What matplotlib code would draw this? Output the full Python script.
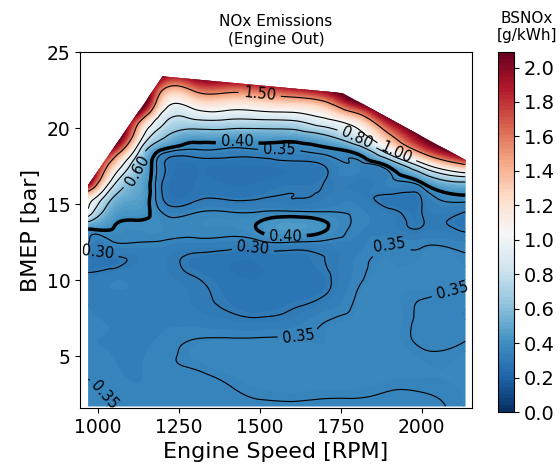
import numpy as np
import matplotlib.pyplot as plt
import matplotlib.tri as mtri
from matplotlib.path import Path
from matplotlib.patches import PathPatch

# ---------------------------------
# data (BSNOx g/kWh)
# ---------------------------------
speed = [970, 1050, 1130, 1200, 1300, 1400, 1500, 1600, 1700, 1800, 1900, 2000, 2135]
bmep = [1.7, 3.0, 4.5, 6.0, 7.5, 9.0, 10.5, 11.5, 12.5, 13.5,
        14.5, 15.5, 16.5, 17.5, 18.5, 19.5, 20.5, 21.5, 22.5, 23.5]

# one row per bmep value, one column per speed
bsnox = [
    [0.372, 0.350, 0.338, 0.338, 0.340, 0.343, 0.346, 0.347, 0.346, 0.345, 0.344, 0.346, 0.356],
    [0.356, 0.340, 0.335, 0.337, 0.343, 0.349, 0.356, 0.358, 0.357, 0.356, 0.352, 0.352, 0.357],
    [0.340, 0.335, 0.333, 0.345, 0.353, 0.362, 0.366, 0.366, 0.364, 0.362, 0.360, 0.356, 0.358],
    [0.335, 0.333, 0.332, 0.338, 0.352, 0.356, 0.357, 0.356, 0.355, 0.360, 0.360, 0.347, 0.350],
    [0.335, 0.332, 0.330, 0.330, 0.322, 0.310, 0.302, 0.315, 0.345, 0.357, 0.360, 0.346, 0.334],
    [0.333, 0.330, 0.328, 0.325, 0.310, 0.290, 0.280, 0.285, 0.300, 0.352, 0.360, 0.352, 0.343],
    [0.300, 0.315, 0.325, 0.318, 0.295, 0.275, 0.270, 0.275, 0.295, 0.340, 0.358, 0.360, 0.357],
    [0.285, 0.295, 0.315, 0.318, 0.292, 0.280, 0.280, 0.285, 0.300, 0.335, 0.355, 0.356, 0.352],
    [0.355, 0.350, 0.350, 0.345, 0.335, 0.330, 0.340, 0.350, 0.340, 0.330, 0.345, 0.340, 0.335],
    [0.440, 0.400, 0.382, 0.375, 0.370, 0.375, 0.410, 0.445, 0.410, 0.340, 0.320, 0.300, 0.285],
    [0.950, 0.470, 0.430, 0.345, 0.345, 0.350, 0.350, 0.355, 0.350, 0.340, 0.310, 0.300, 0.300],
    [1.200, 0.600, 0.470, 0.300, 0.285, 0.290, 0.295, 0.300, 0.310, 0.320, 0.290, 0.305, 0.390],
    [2.150, 0.880, 0.500, 0.300, 0.270, 0.265, 0.270, 0.285, 0.300, 0.310, 0.340, 0.420, 0.620],
    [2.300, 1.250, 0.580, 0.310, 0.270, 0.265, 0.270, 0.280, 0.300, 0.340, 0.420, 0.850, 1.400],
    [2.400, 1.800, 0.780, 0.380, 0.340, 0.335, 0.340, 0.345, 0.370, 0.450, 0.950, 1.600, 2.300],
    [2.500, 2.400, 1.150, 0.650, 0.480, 0.480, 0.480, 0.480, 0.580, 0.860, 1.450, 2.100, 2.500],
    [2.600, 2.500, 1.550, 0.850, 0.780, 0.780, 0.780, 0.800, 0.950, 1.200, 1.950, 2.400, 2.600],
    [2.600, 2.600, 2.300, 1.150, 1.100, 1.120, 1.150, 1.200, 1.350, 1.900, 2.400, 2.500, 2.600],
    [2.600, 2.600, 2.500, 1.500, 1.550, 1.600, 1.650, 1.800, 2.000, 2.400, 2.500, 2.600, 2.600],
    [2.600, 2.600, 2.600, 2.050, 2.100, 2.200, 2.300, 2.400, 2.500, 2.600, 2.600, 2.600, 2.600],
]

# outline of the measured region (upper limit of the map)
edge_speed = [970, 970, 1200, 1756, 2135, 2135]
edge_bmep = [1.7, 16.25, 23.4, 22.3, 17.9, 1.7]

line_levels = [0.30, 0.35, 0.40, 0.60, 0.80, 1.00, 1.50]
zmax = 2.09

# where the contour labels sit
label_spots = [(1500, 22.3), (1800, 19.3), (1920, 18.3), (1120, 17.2),
               (1430, 19.1), (1560, 18.6), (1580, 13.5), (1000, 12.0),
               (1480, 12.2), (1900, 12.8), (1620, 6.6), (2100, 8.8), (1030, 2.6)]

# -----------------------------
# smooth field
# -----------------------------
X, Y = np.meshgrid(speed, bmep)
Z = np.array(bsnox)
tri = mtri.Triangulation(X.ravel(), Y.ravel())
interp = mtri.CubicTriInterpolator(tri, Z.ravel(), kind='min_E')

xf = np.linspace(speed[0], speed[-1], 400)
yf = np.linspace(bmep[0], bmep[-1], 400)
XF, YF = np.meshgrid(xf, yf)
ZF = np.clip(np.asarray(interp(XF, YF).filled(zmax)), 0, zmax)

# -----------------------------
# plot
# -----------------------------
fig = plt.figure(figsize=(5.6, 4.7), dpi=100)
ax = fig.add_axes([80 / 560, 62 / 470, 392 / 560, 356 / 470])
cax = fig.add_axes([498 / 560, 58 / 470, 16 / 560, 360 / 470])

outline = Path(np.column_stack([edge_speed, edge_bmep]))
patch = PathPatch(outline, transform=ax.transData, facecolor='none', edgecolor='none')
ax.add_patch(patch)

cf = ax.contourf(XF, YF, ZF, levels=np.linspace(0, zmax, 101), cmap='RdBu_r')
cf.set_clip_path(patch)

ax.set_xlim(945, 2155)
ax.set_ylim(1.6, 25)

widths = [2.5 if lv == 0.40 else 0.8 for lv in line_levels]
cs = ax.contour(XF, YF, ZF, levels=line_levels, colors='k', linewidths=widths)
cs.set_clip_path(patch)
ax.clabel(cs, fmt='%.2f', fontsize=10.5, inline=True, manual=label_spots)

ax.set_xticks([1000, 1250, 1500, 1750, 2000])
ax.set_yticks([5, 10, 15, 20, 25])
ax.tick_params(labelsize=13.5)
ax.set_xlabel('Engine Speed [RPM]', fontsize=16)
ax.set_ylabel('BMEP [bar]', fontsize=16)
ax.set_title('NOx Emissions\n(Engine Out)', fontsize=11)

cb = fig.colorbar(cf, cax=cax, ticks=np.arange(0, 2.01, 0.2), format='%.1f')
cb.ax.tick_params(labelsize=14)
fig.text(527 / 560, 1 - 27 / 470, 'BSNOx\n[g/kWh]', ha='center', va='center', fontsize=11)

fig.savefig('out.png', dpi=100)
